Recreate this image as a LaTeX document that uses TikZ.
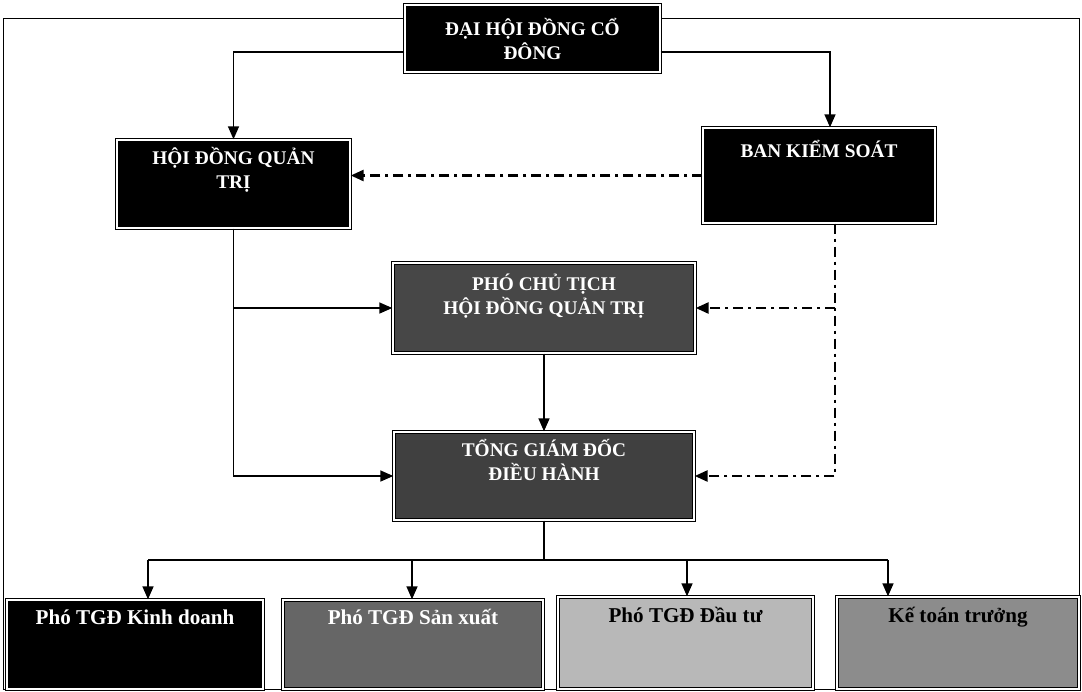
\documentclass[tikz,border=0pt]{standalone}
\usepackage{fontspec}
\setmainfont{Liberation Serif}
\usetikzlibrary{arrows.meta, positioning}

\begin{document}
\begin{tikzpicture}[
  orgbox/.style={rectangle, draw=black, double=white, double distance=0.8pt, line width=0.8pt, fill=black, minimum height=1.76cm, inner sep=0pt},
  headw/.style={font=\fontsize{11}{13.6}\selectfont\bfseries, text=white, align=center, inner sep=0pt},
  subw/.style={font=\fontsize{12}{14}\selectfont\bfseries, text=white, align=center, inner sep=0pt},
  subb/.style={subw, text=black},
  link/.style={->, line width=0.9pt},
  ctrl/.style={->, line width=1.5pt, dash pattern=on 0.2cm off 0.1cm on 0.06cm off 0.1cm},
  >={Triangle[length=0.26cm, width=0.22cm]}
]
  \useasboundingbox (0,0) rectangle (21.64,-13.82);
  \draw[line width=0.5pt] (0.06,-0.36) rectangle (21.58,-13.78);

  % upper levels
  \node[orgbox, minimum width=5.1cm, minimum height=1.34cm] (dhcd) at (10.65,-0.77) {};
  \node[headw, below=0.27cm of dhcd.north] (dhcdT) {ĐẠI HỘI ĐỒNG CỔ\\ĐÔNG};
  \node[orgbox, minimum width=4.66cm] (hdqt) at (4.67,-3.68) {};
  \node[headw, below=0.15cm of hdqt.north] (hdqtT) {HỘI ĐỒNG QUẢN\\TRỊ};
  \node[orgbox, minimum width=4.64cm, minimum height=1.9cm] (bks) at (16.38,-3.51) {};
  \node[headw, below=0.25cm of bks.north] (bksT) {BAN KIỂM SOÁT};
  \node[orgbox, fill=black!72, minimum width=6.04cm, minimum height=1.8cm] (pct) at (10.88,-6.16) {};
  \node[headw, below=0.23cm of pct.north] (pctT) {PHÓ CHỦ TỊCH\\HỘI ĐỒNG QUẢN TRỊ};
  \node[orgbox, fill=black!75, minimum width=6.0cm] (tgd) at (10.88,-9.52) {};
  \node[headw, below=0.16cm of tgd.north] (tgdT) {TỔNG GIÁM ĐỐC\\ĐIỀU HÀNH};

  % lower level
  \node[orgbox, minimum width=5.12cm, minimum height=1.78cm] (kd) at (2.7,-12.89) {};
  \node[subw, below=0.2cm of kd.north] (kdT) {Phó TGĐ Kinh doanh};
  \node[orgbox, fill=black!60, minimum width=5.2cm, minimum height=1.78cm] (sx) at (8.26,-12.89) {};
  \node[subw, below=0.2cm of sx.north] (sxT) {Phó TGĐ Sản xuất};
  \node[orgbox, fill=black!28, minimum width=5.1cm, minimum height=1.84cm] (dt) at (13.71,-12.86) {};
  \node[subb, below=0.22cm of dt.north] (dtT) {Phó TGĐ Đầu tư};
  \node[orgbox, fill=black!45, minimum width=4.84cm, minimum height=1.84cm] (ktt) at (19.16,-12.86) {};
  \node[subb, below=0.22cm of ktt.north] (kttT) {Kế toán trưởng};

  \coordinate (j1) at (2.96,-11.2);
  \coordinate (j2) at (8.24,-11.2);
  \coordinate (j3) at (13.74,-11.2);
  \coordinate (j4) at (17.76,-11.2);

  % lines
  \draw[link] ([yshift=-0.27cm]dhcd.west) -| (hdqt.north);
  \draw[link] ([yshift=-0.27cm]dhcd.east) -| ([xshift=0.22cm]bks.north);
  \draw[link] (hdqt.south) |- (tgd.west);
  \draw[link] (hdqt.south |- pct.west) -- (pct.west);
  \draw[link] (pct.south) -- (tgd.north);
  \draw[line width=0.9pt] (tgd.south) -- (tgd.south |- j1);
  \draw[line width=0.9pt] (j1) -- (j4);
  \draw[link] (j1) -- (j1 |- kd.north);
  \draw[link] (j2) -- (j2 |- sx.north);
  \draw[link] (j3) -- (j3 |- dt.north);
  \draw[link] (j4) -- (j4 |- ktt.north);

  \draw[ctrl] (bks.west) -- (bks.west -| hdqt.east);
  \draw[ctrl] ([xshift=0.32cm]bks.south) |- (tgd.east);
  \draw[ctrl] ([xshift=0.32cm]bks.south |- pct.east) -- (pct.east);
\end{tikzpicture}
\end{document}
